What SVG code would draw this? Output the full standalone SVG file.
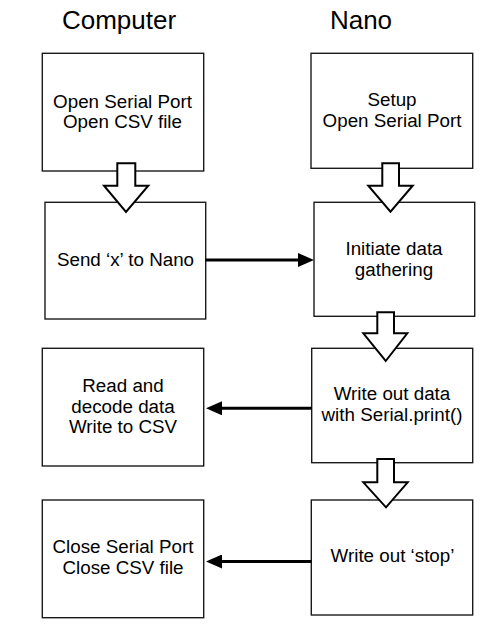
<svg xmlns="http://www.w3.org/2000/svg" width="501" height="643" viewBox="0 0 501 643">
<defs>
<style>
.box{fill:#fff;stroke:#1a1a1a;stroke-width:1.4}
.t{font-family:"Liberation Sans",Arial,sans-serif;font-size:18.8px;fill:#000;text-anchor:middle}
.h{font-family:"Liberation Sans",Arial,sans-serif;font-size:26px;fill:#000;text-anchor:middle}
.hol{fill:#fff;stroke:#000;stroke-width:2;stroke-linejoin:miter}
.con{stroke:#000;stroke-width:3;fill:none}
</style>
<marker id="ah" markerUnits="userSpaceOnUse" markerWidth="16" markerHeight="14" refX="4" refY="7" orient="auto">
<path d="M0,0 L16,7 L0,14 z" fill="#000"/>
</marker>
</defs>
<rect width="501" height="643" fill="#fff"/>
<text class="h" x="119" y="29">Computer</text>
<text class="h" x="361" y="28.5">Nano</text>

<g id="n1"><rect class="box" x="42.3" y="53.3" width="161.4" height="117.7"/>
<text class="t" x="122.5" y="107.7">Open Serial Port</text><text class="t" x="122.5" y="128.3">Open CSV file</text></g>
<g id="n2"><rect class="box" x="45" y="202.3" width="160.7" height="116.7"/>
<text class="t" x="125.5" y="266">Send ‘x’ to Nano</text></g>
<g id="n3"><rect class="box" x="42.3" y="348.3" width="161.4" height="117.7"/>
<text class="t" x="123" y="391.7">Read and</text><text class="t" x="123" y="412.5">decode data</text><text class="t" x="123" y="433.3">Write to CSV</text></g>
<g id="n4"><rect class="box" x="42.3" y="500" width="161.4" height="117.7"/>
<text class="t" x="123" y="553.3">Close Serial Port</text><text class="t" x="123" y="573.5">Close CSV file</text></g>

<g id="m1"><rect class="box" x="311" y="53.3" width="161.7" height="115"/>
<text class="t" x="392" y="105.7">Setup</text><text class="t" x="392" y="127.3">Open Serial Port</text></g>
<g id="m2"><rect class="box" x="314" y="202.3" width="160.7" height="114"/>
<text class="t" x="394" y="255">Initiate data</text><text class="t" x="394" y="275.5">gathering</text></g>
<g id="m3"><rect class="box" x="311.7" y="348.3" width="161" height="114.4"/>
<text class="t" x="392" y="400">Write out data</text><text class="t" x="392" y="421">with Serial.print()</text></g>
<g id="m4"><rect class="box" x="311.3" y="500" width="161.4" height="115"/>
<text class="t" x="392.5" y="562">Write out ‘stop’</text></g>

<g id="connectors">
<polygon class="hol" points="117.3,163.3 135.3,163.3 135.3,185.7 148.3,185.7 126,212 104,185.7 117.3,185.7"/>
<polygon class="hol" points="382.3,163.3 399,163.3 399,185.7 412.7,185.7 390.5,211.7 368.3,185.7 382.3,185.7"/>
<polygon class="hol" points="377.3,312.3 394,312.3 394,333.3 407.3,333.3 385.7,361 363.3,333.3 377.3,333.3"/>
<polygon class="hol" points="377.3,459 394,459 394,482.3 407.7,482.3 386,507.3 363.3,482.3 377.3,482.3"/>
<line class="con" x1="205.7" y1="260" x2="302" y2="260" marker-end="url(#ah)"/>
<line class="con" x1="311.7" y1="408.3" x2="218" y2="408.3" marker-end="url(#ah)"/>
<line class="con" x1="311.3" y1="561.5" x2="218" y2="561.5" marker-end="url(#ah)"/>
</g>
</svg>
